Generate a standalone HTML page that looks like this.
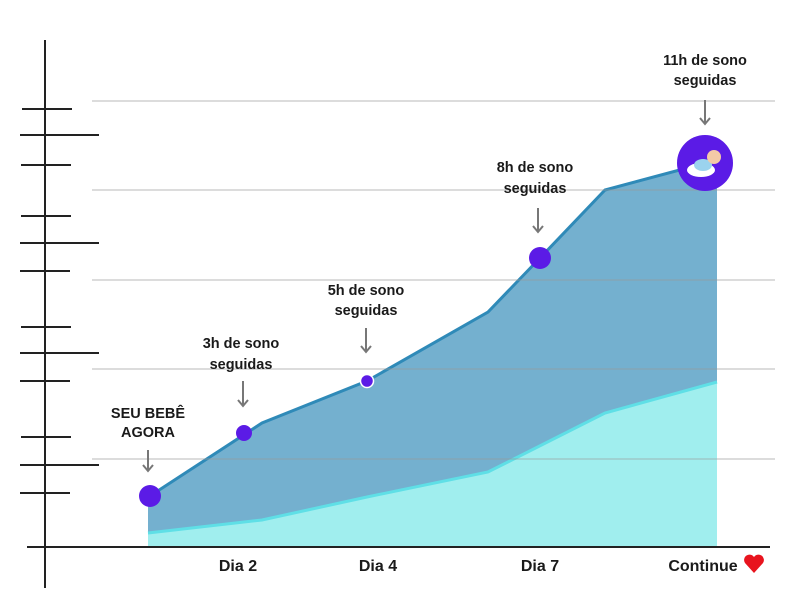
<!DOCTYPE html>
<html><head><meta charset="utf-8"><style>
body{margin:0;background:#fff;}
svg text{font-family:"Liberation Sans",sans-serif;font-weight:bold;fill:#1a1a1a;}
</style></head><body>
<svg width="800" height="600" viewBox="0 0 800 600" xmlns="http://www.w3.org/2000/svg">
<polygon points="148,547 148,496 262,423 367,381 488,312 540,258 605,190 717,160 717,547" fill="#74b0cf"/>
<polyline points="150,496 262,423 367,381 488,312 540,258 605,190 717,160" fill="none" stroke="#2f8ab8" stroke-width="3"/>
<polygon points="148,547 148,533 262,520 367,497 488,472 605,413 717,382 717,547" fill="#a0eeee"/>
<polyline points="148,533 262,520 367,497 488,472 605,413 717,382" fill="none" stroke="#5fdfe6" stroke-width="3"/>
<g stroke="#999" stroke-opacity="0.45" stroke-width="1.5">
<line x1="92" y1="101" x2="775" y2="101"/>
<line x1="92" y1="190" x2="775" y2="190"/>
<line x1="92" y1="280" x2="775" y2="280"/>
<line x1="92" y1="369" x2="775" y2="369"/>
<line x1="92" y1="459" x2="775" y2="459"/>
</g>
<g stroke="#222" stroke-width="2">
<line x1="45" y1="40" x2="45" y2="588"/>
<line x1="27" y1="547" x2="770" y2="547"/>
<line x1="22" y1="109" x2="72" y2="109"/>
<line x1="20" y1="135" x2="99" y2="135"/>
<line x1="21" y1="165" x2="71" y2="165"/>
<line x1="21" y1="216" x2="71" y2="216"/>
<line x1="20" y1="243" x2="99" y2="243"/>
<line x1="20" y1="271" x2="70" y2="271"/>
<line x1="21" y1="327" x2="71" y2="327"/>
<line x1="20" y1="353" x2="99" y2="353"/>
<line x1="20" y1="381" x2="70" y2="381"/>
<line x1="21" y1="437" x2="71" y2="437"/>
<line x1="20" y1="465" x2="99" y2="465"/>
<line x1="20" y1="493" x2="70" y2="493"/>
</g>
<g fill="#5b1be6">
<circle cx="150" cy="496" r="11"/>
<circle cx="244" cy="433" r="8"/>
<circle cx="367" cy="381" r="6.5" stroke="#fff" stroke-width="1.5"/>
<circle cx="540" cy="258" r="11"/>
<circle cx="705" cy="163" r="28"/>
</g>
<ellipse cx="701" cy="170" rx="14" ry="7" fill="#fff"/>
<ellipse cx="703" cy="165" rx="9" ry="6" fill="#9bd3ee"/>
<circle cx="714" cy="157" r="7" fill="#f4c9a7"/>
<g stroke="#777" stroke-width="2" fill="none">
<path d="M148 450V471M143 465l5 6 5-6"/>
<path d="M243 381V406M238 400l5 6 5-6"/>
<path d="M366 328V352M361 346l5 6 5-6"/>
<path d="M538 208V232M533 226l5 6 5-6"/>
<path d="M705 100V124M700 118l5 6 5-6"/>
</g>
<g font-size="14.5" text-anchor="middle">
<text x="148" y="418">SEU BEBÊ</text><text x="148" y="437">AGORA</text>
<text x="241" y="348">3h de sono</text><text x="241" y="369">seguidas</text>
<text x="366" y="295">5h de sono</text><text x="366" y="315">seguidas</text>
<text x="535" y="172">8h de sono</text><text x="535" y="193">seguidas</text>
<text x="705" y="65">11h de sono</text><text x="705" y="85">seguidas</text>
</g>
<g font-size="16" text-anchor="middle">
<text x="238" y="571">Dia 2</text>
<text x="378" y="571">Dia 4</text>
<text x="540" y="571">Dia 7</text>
<text x="703" y="571">Continue</text>
</g>
<path d="M754 573 L745 563 A4.5 4.5 0 0 1 754 557 A4.5 4.5 0 0 1 763 563 Z" fill="#e8141e"/>
</svg>
</body></html>
